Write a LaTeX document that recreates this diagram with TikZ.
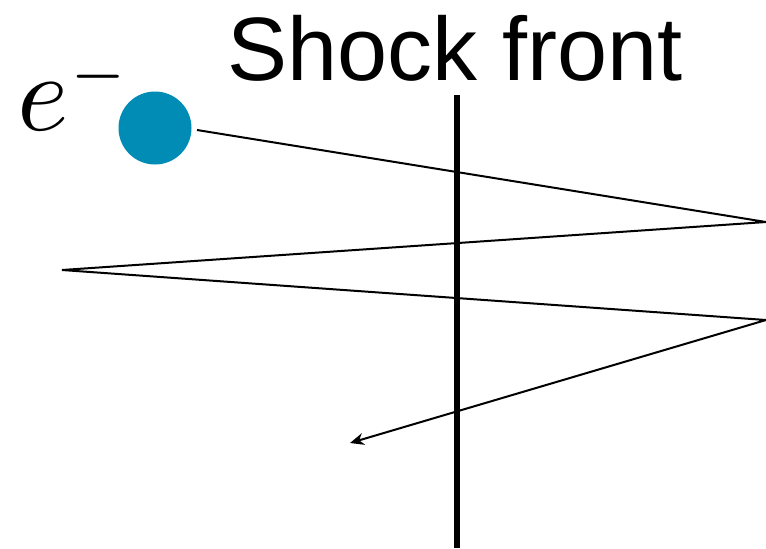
\documentclass[tikz,border=0pt]{standalone}
\usepackage{fontspec}
\setmainfont{Liberation Sans}
\usepackage{graphicx}
\usepackage{xcolor}
\usetikzlibrary{arrows.meta,positioning}
\definecolor{electronblue}{RGB}{0,140,180}

\begin{document}
\begin{tikzpicture}[
    x=0.5pt, y=-0.5pt,
    particle/.style={circle, fill=electronblue, minimum size=36.5pt, inner sep=0pt},
    front/.style={line width=3pt},
    path/.style={line width=1pt, line join=miter},
    arrow/.style={-{Stealth[length=7pt,width=6pt]}}
]
    \useasboundingbox (0,0) rectangle (766,548);

    \node[particle] (electron) at (155,128) {};
    \node[anchor=base west, inner sep=0pt] (elabel) at (17,130) {\scalebox{5.5}{$e^{\scriptscriptstyle -}$}};
    \node[anchor=base, inner sep=0pt, font=\fontsize{45}{54}\selectfont] (title) at (455,80) {Shock front};

    % shock front
    \coordinate (fronttop) at (457,95);
    \coordinate (frontbot) at (457,548);
    \draw[front] (fronttop) -- (frontbot);

    % zigzag path of the electron
    \coordinate (start) at (197,130);
    \coordinate (turnA) at (766,222);
    \coordinate (turnB) at (62,270);
    \coordinate (turnC) at (766,320);
    \coordinate (finish) at (350,443);
    \draw[path, arrow] (start) -- (turnA) -- (turnB) -- (turnC) -- (finish);
\end{tikzpicture}
\end{document}
